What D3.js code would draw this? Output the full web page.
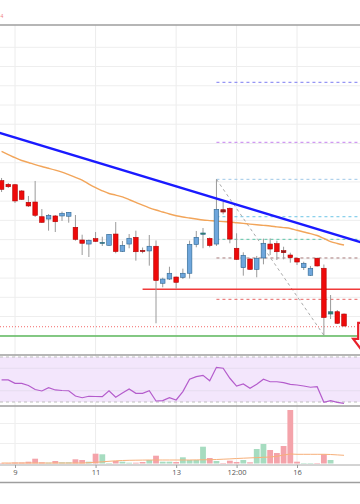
<!DOCTYPE html>
<html>
<head>
<meta charset="utf-8">
<script src="https://cdn.jsdelivr.net/npm/d3@7"></script>
<style>
  html, body { margin: 0; padding: 0; background: #fff; }
  svg { display: block; font-family: "Open Sans", "DejaVu Sans", sans-serif; }
</style>
</head>
<body>
<div id="chart"></div>
<script>
// 4h candles, index 0 = day 9 00:00
const candleIdx = d3.range(-2, 50);
const opens  = [1761.3,1757.5,1757.1,1750.6,1738.8,1739.1,1723.8,1721.4,1724.6,1724.6,1724.3,1712.8,1699.6,1695.4,1701.0,1696.6,1694.1,1705.8,1687.8,1695.4,1702.4,1688.8,1688.2,1693.1,1654.6,1659.0,1661.1,1660.8,1665.0,1694.9,1705.5,1701.2,1695.4,1731.1,1732.6,1691.0,1670.8,1679.8,1669.1,1680.9,1695.4,1695.8,1688.5,1684.0,1680.6,1670.8,1662.9,1680.6,1670.2,1622.6,1625.0,1622.6];
const highs  = [1764.1,1758.9,1757.8,1751.6,1745.4,1761.0,1731.8,1726.6,1725.6,1729.2,1728.7,1725.6,1705.1,1700.1,1707.9,1703.0,1705.8,1718.3,1698.6,1705.8,1709.3,1691.8,1704.8,1699.1,1660.4,1671.8,1661.6,1669.8,1698.9,1709.0,1712.1,1702.2,1762.7,1739.4,1733.4,1706.6,1686.8,1680.9,1683.0,1701.0,1701.2,1698.9,1692.6,1686.4,1681.4,1677.0,1672.6,1681.4,1674.1,1642.4,1626.8,1623.2];
const lows   = [1749.5,1753.7,1738.1,1741.2,1733.9,1723.5,1717.3,1709.3,1707.9,1719.4,1717.6,1698.9,1684.0,1681.9,1697.5,1693.4,1693.4,1685.8,1687.1,1691.0,1678.1,1685.8,1672.9,1613.0,1650.4,1658.0,1649.0,1659.0,1659.6,1692.0,1691.0,1692.0,1693.4,1726.3,1696.2,1678.8,1662.5,1668.4,1660.8,1674.3,1684.0,1678.8,1679.5,1676.0,1673.6,1668.4,1662.2,1672.0,1600.5,1617.4,1612.2,1609.6];
const closes = [1752.3,1755.0,1740.2,1741.9,1735.0,1725.3,1718.0,1725.3,1718.6,1727.4,1728.4,1700.3,1696.2,1699.3,1698.2,1697.2,1705.5,1687.6,1694.1,1701.4,1687.4,1688.2,1693.1,1657.5,1659.0,1665.0,1655.6,1665.0,1695.1,1702.4,1706.9,1693.9,1731.5,1728.7,1700.6,1679.5,1683.7,1669.1,1680.6,1696.2,1690.2,1687.4,1686.4,1681.2,1676.7,1675.4,1670.2,1672.6,1619.0,1625.0,1613.0,1610.2];
const maValues = [1791.7,1788.5,1785.2,1782.3,1780.2,1778.0,1776.0,1774.2,1772.3,1770.1,1767.5,1764.8,1761.8,1757.8,1754.1,1750.8,1748.0,1746.3,1744.5,1741.6,1738.7,1735.8,1733.1,1730.8,1728.7,1726.6,1724.8,1723.5,1722.5,1721.4,1720.4,1719.8,1719.2,1718.7,1718.3,1717.6,1716.9,1716.1,1715.4,1714.8,1714.2,1713.3,1712.5,1711.6,1709.7,1707.9,1706.3,1704.3,1701.2,1698.0,1696.0,1694.4];
const rsiValues = [49.6,49.6,46.6,46.6,44.7,41.1,39.8,42.7,40.7,40.2,40.0,35.3,33.8,35.1,34.9,34.7,40.0,34.2,38.0,41.6,37.7,37.7,40.0,30.9,31.2,33.8,31.8,39.2,50.2,52.5,53.7,48.9,60.8,60.0,51.1,44.2,46.0,42.2,45.7,50.2,48.0,48.0,47.2,45.7,45.1,44.2,43.1,43.6,29.7,31.2,29.7,28.8];
const volumes = [5,5,10,10,18,48,12,8,25,12,12,42,35,18,98,92,5,25,18,8,8,15,35,78,18,18,15,62,35,35,168,55,25,5,28,15,35,12,145,195,135,105,175,535,18,5,5,5,92,35,0,0];
const volumeMa = [5,5,5,5,5,5,5,5,5,5,5,5,5,8,12,17,22,27,30,32,33,34,35,35,35,35,35,35,35,36,37,38,40,43,46,50,53,56,59,62,65,72,85,95,92,92,92,92,92,90,86,82];

const tickIdx = [0, 12, 24, 33, 42];
const tickLabels = ["9", "11", "13", "12:00", "16"];

// drawn levels
const trendLine = [{i: -3, p: 1812.5}, {i: 52, p: 1696.2}];
const fibLine = [{i: 30, p: 1762.7}, {i: 46, p: 1600.5}];
const fibLevels = [1863.6, 1801.2, 1762.7, 1723.8, 1700.3, 1680.9, 1637.9];
const fibColors = ["#7b7bf2", "#c580f0", "#9fc8e8", "#6cc5e6", "#5cc4a8", "#a87c7c", "#e86464"];
const fibStart = 30;
const supportRed = {from: 19, p: 1648.3};
const supportDotted = 1609.4;
const supportGreen = 1599.8;
const arrowTip = {i: 52.3, p: 1579};

const W = 360, H = 504;
const svg = d3.select("#chart").append("svg").attr("width", W).attr("height", H);
svg.append("rect").attr("width", W).attr("height", H).attr("fill", "#fff");

const x = d3.scaleLinear().domain([-2.234, 51.38]).range([0, W]);
const y = d3.scaleLinear().domain([1580, 1923.2]).range([355, 25]);
const yRsi = d3.scaleLinear().domain([30, 70]).range([402, 357]);
const yVol = d3.scaleLinear().domain([0, 575]).range([463.5, 406]);

const defs = svg.append("defs");
defs.append("clipPath").attr("id", "cPrice").append("rect").attr("x", 0).attr("y", 25).attr("width", W).attr("height", 330);
defs.append("clipPath").attr("id", "cRsi").append("rect").attr("x", 0).attr("y", 355).attr("width", W).attr("height", 51);
defs.append("clipPath").attr("id", "cVol").append("rect").attr("x", 0).attr("y", 406).attr("width", W).attr("height", 59);

// grid
const grid = svg.append("g");
grid.selectAll(".vg").data(tickIdx).enter().append("line")
  .attr("x1", d => x(d)).attr("x2", d => x(d)).attr("y1", 25).attr("y2", 465)
  .attr("stroke", "#ececec").attr("stroke-width", 1);
grid.selectAll(".hg").data(d3.range(1600, 1901, 20)).enter().append("line")
  .attr("x1", 0).attr("x2", W).attr("y1", d => y(d)).attr("y2", d => y(d))
  .attr("stroke", "#eeeeee").attr("stroke-width", 1);

// price pane
const price = svg.append("g").attr("clip-path", "url(#cPrice)");

const levelG = price.append("g");
levelG.selectAll("line").data(fibLevels).enter().append("line")
  .attr("x1", x(fibStart)).attr("x2", W)
  .attr("y1", d => y(d)).attr("y2", d => y(d))
  .attr("stroke", (d, k) => fibColors[k]).attr("stroke-width", 1)
  .attr("stroke-dasharray", "3,3");
price.append("line")
  .attr("x1", x(fibLine[0].i)).attr("y1", y(fibLine[0].p))
  .attr("x2", x(fibLine[1].i)).attr("y2", y(fibLine[1].p))
  .attr("stroke", "#aaa").attr("stroke-width", 1).attr("stroke-dasharray", "3,3");
price.append("line")
  .attr("x1", x(supportRed.from)).attr("x2", W)
  .attr("y1", y(supportRed.p)).attr("y2", y(supportRed.p))
  .attr("stroke", "#f03a3a").attr("stroke-width", 1.5);
price.append("line")
  .attr("x1", 0).attr("x2", W).attr("y1", y(supportDotted)).attr("y2", y(supportDotted))
  .attr("stroke", "#f26a6a").attr("stroke-width", 1).attr("stroke-dasharray", "1,2");
price.append("line")
  .attr("x1", 0).attr("x2", W).attr("y1", y(supportGreen)).attr("y2", y(supportGreen))
  .attr("stroke", "#5cb85c").attr("stroke-width", 1.5);

// moving average
price.append("path").datum(candleIdx)
  .attr("d", d3.line().x(i => x(i)).y((i, k) => y(maValues[k])).curve(d3.curveMonotoneX))
  .attr("fill", "none").attr("stroke", "#f2a55a").attr("stroke-width", 1.4);

// candles
const bw = 4.6;
const cg = price.selectAll(".c").data(candleIdx).enter().append("g");
cg.append("line")
  .attr("x1", i => x(i)).attr("x2", i => x(i))
  .attr("y1", (i, k) => y(highs[k])).attr("y2", (i, k) => y(lows[k]))
  .attr("stroke", "#9a9a9a").attr("stroke-width", 1);
cg.append("rect")
  .attr("x", i => x(i) - bw / 2).attr("width", bw)
  .attr("y", (i, k) => y(Math.max(opens[k], closes[k])))
  .attr("height", (i, k) => Math.max(1.2, Math.abs(y(opens[k]) - y(closes[k]))))
  .attr("fill", (i, k) => {
    const up = closes[k] >= opens[k];
    const tiny = Math.abs(opens[k] - closes[k]) < 2.5;
    if (tiny) return up ? "#2f8a66" : "#8e2020";
    return up ? "#6ea6dc" : "#ee0a0a";
  })
  .attr("stroke", (i, k) => closes[k] >= opens[k] ? "#2e6690" : "#b30000")
  .attr("stroke-width", 0.6);

// trend line
price.append("line")
  .attr("x1", x(trendLine[0].i)).attr("y1", y(trendLine[0].p))
  .attr("x2", x(trendLine[1].i)).attr("y2", y(trendLine[1].p))
  .attr("stroke", "#1a1aff").attr("stroke-width", 2.4);

// down arrow annotation
const ax = x(arrowTip.i), ay = y(arrowTip.p);
price.append("path")
  .attr("d", `M${ax},${ay} L${ax - 13},${ay - 17} L${ax - 8},${ay - 17} L${ax - 8},${ay - 33} L${ax + 8},${ay - 33} L${ax + 8},${ay - 17} L${ax + 13},${ay - 17} Z`)
  .attr("fill", "#fff").attr("stroke", "#e8212b").attr("stroke-width", 2.2);

// RSI pane
const rsi = svg.append("g").attr("clip-path", "url(#cRsi)");
rsi.append("rect").attr("x", 0).attr("width", W)
  .attr("y", yRsi(70)).attr("height", yRsi(30) - yRsi(70))
  .attr("fill", "#f3e6fc");
rsi.selectAll(".rg").data([40, 60]).enter().append("line")
  .attr("x1", 0).attr("x2", W).attr("y1", d => yRsi(d)).attr("y2", d => yRsi(d))
  .attr("stroke", "#e6dcef").attr("stroke-width", 1);
rsi.selectAll(".rb").data([30, 70]).enter().append("line")
  .attr("x1", 0).attr("x2", W).attr("y1", d => yRsi(d)).attr("y2", d => yRsi(d))
  .attr("stroke", "#bdbdbd").attr("stroke-width", 1).attr("stroke-dasharray", "3,3");
rsi.append("path").datum(candleIdx)
  .attr("d", d3.line().x(i => x(i)).y((i, k) => yRsi(rsiValues[k])))
  .attr("fill", "none").attr("stroke", "#b45ccc").attr("stroke-width", 1.2);

// volume pane
const vol = svg.append("g").attr("clip-path", "url(#cVol)");
vol.selectAll(".vgl").data([200, 400]).enter().append("line")
  .attr("x1", 0).attr("x2", W).attr("y1", d => yVol(d)).attr("y2", d => yVol(d))
  .attr("stroke", "#efefef").attr("stroke-width", 1);
vol.selectAll(".vb").data(candleIdx).enter().append("rect")
  .attr("x", i => x(i) - 2.9).attr("width", 5.8)
  .attr("y", (i, k) => yVol(volumes[k]))
  .attr("height", (i, k) => yVol(0) - yVol(volumes[k]))
  .attr("fill", (i, k) => closes[k] >= opens[k] ? "#a6dcc0" : "#f4a3aa");
vol.append("path").datum(candleIdx)
  .attr("d", d3.line().x(i => x(i)).y((i, k) => yVol(volumeMa[k])))
  .attr("fill", "none").attr("stroke", "#f7b07a").attr("stroke-width", 1);

// pane separators
[25, 355, 406].forEach(v => {
  svg.append("line").attr("x1", 0).attr("x2", W).attr("y1", v).attr("y2", v)
    .attr("stroke", "#9e9e9e").attr("stroke-width", 1.6);
});
svg.append("line").attr("x1", 0).attr("x2", W).attr("y1", 465).attr("y2", 465)
  .attr("stroke", "#a8a8a8").attr("stroke-width", 1);
svg.append("line").attr("x1", 0).attr("x2", W).attr("y1", 482.5).attr("y2", 482.5)
  .attr("stroke", "#9e9e9e").attr("stroke-width", 1.6);

// time axis
const xAxis = d3.axisBottom(x).tickValues(tickIdx).tickFormat((d, k) => tickLabels[k])
  .tickSize(3).tickPadding(2);
const axG = svg.append("g").attr("transform", "translate(0,465)").call(xAxis);
axG.select(".domain").remove();
axG.selectAll(".tick line").attr("stroke", "#999");
axG.selectAll(".tick text").attr("fill", "#555").attr("font-size", "7.5px")
  .attr("font-family", "'Open Sans', 'DejaVu Sans', sans-serif");

// small red label at top left
svg.append("text").attr("x", 0.5).attr("y", 18).attr("fill", "#f08080")
  .attr("font-size", "5px").text("4");
</script>
</body>
</html>
